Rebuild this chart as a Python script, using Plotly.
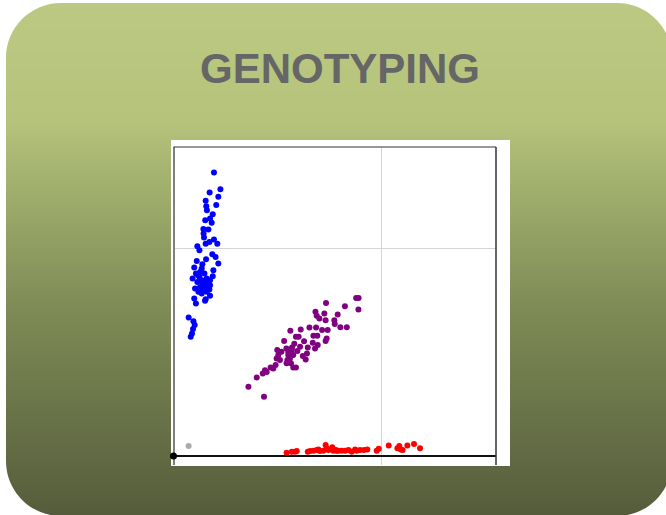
import plotly.graph_objects as go

# ---------------- data (signal intensities, allele X vs allele Y) ----------------
blue_x = [0.195, 0.226, 0.174, 0.216, 0.155, 0.206, 0.158, 0.161, 0.189, 0.153, 0.176, 0.184,
          0.144, 0.168, 0.145, 0.147, 0.195, 0.211, 0.155, 0.173, 0.115, 0.125, 0.187, 0.203,
          0.157, 0.112, 0.216, 0.139, 0.100, 0.136, 0.192, 0.108, 0.149, 0.189, 0.125, 0.092,
          0.115, 0.144, 0.168, 0.176, 0.104, 0.128, 0.152, 0.173, 0.136, 0.176, 0.100, 0.155,
          0.108, 0.152, 0.120, 0.141, 0.160, 0.128, 0.160, 0.160, 0.136, 0.176, 0.118, 0.133,
          0.073, 0.096, 0.102, 0.094, 0.089, 0.083]
blue_y = [1.364, 1.284, 1.268, 1.248, 1.228, 1.208, 1.202, 1.183, 1.163, 1.135, 1.143, 1.122,
          1.093, 1.090, 1.071, 1.051, 1.042, 1.022, 1.022, 1.030, 1.010, 0.990, 0.971, 0.958,
          0.947, 0.939, 0.926, 0.923, 0.907, 0.902, 0.894, 0.878, 0.878, 0.865, 0.862, 0.854,
          0.838, 0.838, 0.838, 0.822, 0.806, 0.814, 0.814, 0.801, 0.782, 0.771, 0.758, 0.755,
          0.734, 0.747, 0.790, 0.827, 0.854, 0.886, 0.790, 0.830, 0.846, 0.846, 0.870, 0.800,
          0.667, 0.649, 0.630, 0.611, 0.590, 0.574]

purple_x = [0.880, 0.892, 0.891, 0.826, 0.735, 0.791, 0.684, 0.690, 0.727, 0.733, 0.703, 0.775,
            0.777, 0.804, 0.835, 0.743, 0.716, 0.687, 0.655, 0.613, 0.563, 0.590, 0.603, 0.674,
            0.693, 0.738, 0.733, 0.629, 0.671, 0.695, 0.582, 0.682, 0.533, 0.571, 0.544, 0.500,
            0.553, 0.520, 0.577, 0.643, 0.505, 0.623, 0.637, 0.497, 0.549, 0.566, 0.492, 0.468,
            0.441, 0.449, 0.430, 0.401, 0.361, 0.436, 0.545, 0.577, 0.590, 0.561, 0.597, 0.513,
            0.647, 0.610, 0.553, 0.570, 0.481]
purple_y = [0.761, 0.761, 0.705, 0.721, 0.736, 0.681, 0.694, 0.675, 0.686, 0.654, 0.662, 0.654,
            0.635, 0.620, 0.620, 0.606, 0.606, 0.619, 0.619, 0.609, 0.603, 0.574, 0.574, 0.579,
            0.579, 0.566, 0.554, 0.553, 0.545, 0.534, 0.540, 0.518, 0.554, 0.522, 0.518, 0.510,
            0.502, 0.502, 0.486, 0.494, 0.486, 0.481, 0.465, 0.470, 0.462, 0.446, 0.438, 0.426,
            0.413, 0.405, 0.397, 0.378, 0.333, 0.285, 0.446, 0.426, 0.426, 0.470, 0.506, 0.462,
            0.522, 0.526, 0.486, 0.510, 0.421]

red_x = [0.545, 0.570, 0.586, 0.594, 0.647, 0.658, 0.674, 0.690, 0.706, 0.722, 0.733, 0.738,
         0.746, 0.762, 0.770, 0.782, 0.794, 0.810, 0.827, 0.843, 0.859, 0.875, 0.883, 0.899,
         0.918, 0.934, 0.979, 0.989, 1.037, 1.079, 1.088, 1.095, 1.104, 1.127, 1.159, 1.188,
         0.698, 0.765, 0.786]
red_y = [0.016, 0.021, 0.021, 0.024, 0.021, 0.024, 0.026, 0.029, 0.024, 0.026, 0.053, 0.037,
         0.029, 0.032, 0.026, 0.029, 0.026, 0.026, 0.026, 0.029, 0.021, 0.032, 0.026, 0.029,
         0.029, 0.032, 0.026, 0.035, 0.051, 0.037, 0.048, 0.032, 0.029, 0.051, 0.058, 0.037,
         0.032, 0.042, 0.026]

nocall_x = [0.073]
nocall_y = [0.048]
ntc_x = [0.0]
ntc_y = [0.0]

title_text = "GENOTYPING"

# ---------------- figure ----------------
W, H = 666, 515
fig = go.Figure()

def px(x):
    return x / W

def py(y):
    return 1 - y / H

shapes = []
# gradient background (rounded rectangle)
x0, x1, y0, y1, r = 6, 672, 3, 516, 55
stops = [(0, (188, 201, 130)), (120, (181, 195, 123)), (300, (128, 141, 87)), (516, (85, 92, 59))]

def col(y):
    for (ya, ca), (yb, cb) in zip(stops[:-1], stops[1:]):
        if ya <= y <= yb:
            t = (y - ya) / (yb - ya)
            c = [round(ca[i] + (cb[i] - ca[i]) * t) for i in range(3)]
            return "rgb(%d,%d,%d)" % tuple(c)
    return "rgb(%d,%d,%d)" % stops[-1][1]

step = 3
yy = y0
while yy < y1:
    shapes.append(dict(type="rect", xref="paper", yref="paper", layer="below",
                       x0=px(x0), x1=px(x1), y0=py(min(yy + step + 0.6, y1)), y1=py(yy),
                       fillcolor=col(yy + step / 2), line=dict(width=0)))
    yy += step

k = 0.448 * r

def corner(cx, cy, sx, sy):
    a = (cx, cy + sy * r)
    b1 = (cx, cy + sy * k)
    b2 = (cx + sx * k, cy)
    c = (cx + sx * r, cy)
    p = "M %f,%f C %f,%f %f,%f %f,%f L %f,%f Z" % (
        px(a[0]), py(a[1]), px(b1[0]), py(b1[1]), px(b2[0]), py(b2[1]),
        px(c[0]), py(c[1]), px(cx - sx * 1), py(cy - sy * 1))
    return dict(type="path", xref="paper", yref="paper", layer="below", path=p,
                fillcolor="white", line=dict(width=0))

shapes.append(corner(x0, y0, 1, 1))
shapes.append(corner(x1, y0, -1, 1))
shapes.append(corner(x0, y1, 1, -1))
shapes.append(corner(x1, y1, -1, -1))

# white chart panel
shapes.append(dict(type="rect", xref="paper", yref="paper", layer="below",
                   x0=px(171), x1=px(510), y0=py(466), y1=py(140),
                   fillcolor="white", line=dict(width=0)))

# frame lines (top and right)
dl, dr, dt, db = px(173.5), px(496), py(147), py(465)
shapes.append(dict(type="line", xref="paper", yref="paper", x0=dl, x1=dr, y0=dt, y1=dt,
                   line=dict(color="#333333", width=1.2)))
shapes.append(dict(type="line", xref="paper", yref="paper", x0=dr, x1=dr, y0=db, y1=dt,
                   line=dict(color="#333333", width=1.5)))

mk = dict(size=6, line=dict(width=0))
fig.add_trace(go.Scatter(x=blue_x, y=blue_y, mode="markers", marker=dict(color="#0000ff", **mk),
                         cliponaxis=False, showlegend=False))
fig.add_trace(go.Scatter(x=purple_x, y=purple_y, mode="markers", marker=dict(color="#800080", **mk),
                         cliponaxis=False, showlegend=False))
fig.add_trace(go.Scatter(x=red_x, y=red_y, mode="markers", marker=dict(color="#ff0000", **mk),
                         cliponaxis=False, showlegend=False))
fig.add_trace(go.Scatter(x=nocall_x, y=nocall_y, mode="markers", marker=dict(color="#aaaaaa", **mk),
                         cliponaxis=False, showlegend=False))
fig.add_trace(go.Scatter(x=ntc_x, y=ntc_y, mode="markers", marker=dict(color="#000000", size=7),
                         cliponaxis=False, showlegend=False))

fig.update_layout(
    width=W, height=H, autosize=False,
    margin=dict(l=0, r=0, t=0, b=0),
    paper_bgcolor="white", plot_bgcolor="rgba(0,0,0,0)",
    shapes=shapes,
    xaxis=dict(domain=[dl, dr], range=[0, 1.554], tickvals=[1], showticklabels=False,
               ticks="", showgrid=True, gridcolor="#d4d4d4", gridwidth=1,
               zeroline=True, zerolinecolor="#7f7f7f", zerolinewidth=2, showline=False,
               fixedrange=True),
    yaxis=dict(domain=[db, dt], range=[-0.043, 1.487], tickvals=[1], showticklabels=False,
               ticks="", showgrid=True, gridcolor="#d4d4d4", gridwidth=1,
               zeroline=True, zerolinecolor="#111111", zerolinewidth=1.5, showline=False,
               fixedrange=True),
    annotations=[dict(text="<b>%s</b>" % title_text, x=px(340), y=py(69), xref="paper", yref="paper",
                      showarrow=False, xanchor="center", yanchor="middle",
                      font=dict(family="Liberation Sans, Arial, sans-serif", size=42, color="#666666"))],
)

fig.write_html("out.html", config={"displayModeBar": False, "staticPlot": True},
               post_script="document.body.style.margin='0';document.body.style.overflow='hidden';")
